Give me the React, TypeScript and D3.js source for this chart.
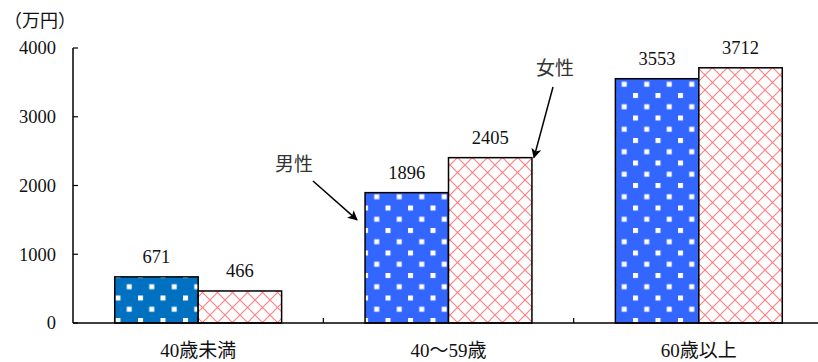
import React from "react";
import * as d3 from "d3";

// Average savings by age group of household head (万円)
const categories = ["40歳未満", "40～59歳", "60歳以上"];
const series = ["男性", "女性"];
const maleValues = [671, 1896, 3553];
const femaleValues = [466, 2405, 3712];
const yTicks = [0, 1000, 2000, 3000, 4000];
const unitLabel = "（万円）";

const W = 818;
const H = 362;
const left = 73;
const right = 824;
const top = 48;
const bottom = 323;

const numFont = "Liberation Serif, Noto Sans CJK JP, serif";
const jpFont = "Liberation Serif, Noto Sans CJK JP, serif";
const ink = "#111";
const numSize = 18.5;

export default function App() {
  const x0 = d3.scaleBand<string>().domain(categories).range([left, right]).padding(0);
  const x1 = d3
    .scaleBand<string>()
    .domain(series)
    .range([0, x0.bandwidth()])
    .paddingInner(0)
    .paddingOuter(0.5);
  const y = d3.scaleLinear().domain([0, 4000]).range([bottom, top]);

  const maleFill = (i: number) => (i === 0 ? "url(#dotsDark)" : "url(#dotsBlue)");

  // annotation anchors tied to the middle group's bars
  const mid = categories[1];
  const maleTip = { x: x0(mid)! + x1("男性")! - 8, y: y(1500) };
  const femaleTip = {
    x: x0(mid)! + x1("女性")! + x1.bandwidth() + 2,
    y: y(femaleValues[1]),
  };

  return (
    <svg
      width={W}
      height={H}
      style={{ position: "absolute", left: 0, top: 0, background: "#fff" }}
    >
      <defs>
        <pattern id="dotsBlue" patternUnits="userSpaceOnUse" width={22.5} height={22.5} x={3} y={3}>
          <rect width={22.5} height={22.5} fill="#3366ff" />
          <rect x={0} y={0} width={5} height={5} fill="#fff" />
          <rect x={11.25} y={11.25} width={5} height={5} fill="#fff" />
        </pattern>
        <pattern id="dotsDark" patternUnits="userSpaceOnUse" width={22.5} height={22.5} x={3} y={3}>
          <rect width={22.5} height={22.5} fill="#0070c0" />
          <rect x={0} y={0} width={5} height={5} fill="#fff" />
          <rect x={11.25} y={11.25} width={5} height={5} fill="#fff" />
        </pattern>
        <pattern id="lattice" patternUnits="userSpaceOnUse" width={15} height={15}>
          <rect width={15} height={15} fill="#fff" />
          <path d="M0,0L15,15M15,0L0,15" stroke="#ff7c80" strokeWidth={1.1} />
        </pattern>
        <marker
          id="arrow"
          viewBox="0 0 10 10"
          refX={9}
          refY={5}
          markerWidth={10}
          markerHeight={10}
          markerUnits="userSpaceOnUse"
          orient="auto"
        >
          <path d="M0,0L10,5L0,10L2.5,5Z" fill="#000" />
        </marker>
      </defs>

      {/* unit label */}
      <text x={4} y={27} fontFamily={jpFont} fontSize={18} fill={ink}>
        {unitLabel}
      </text>

      {/* y axis */}
      <line x1={left} x2={left} y1={top} y2={bottom} stroke="#000" strokeWidth={1.5} />
      {yTicks.map((t) => (
        <g key={t}>
          <line x1={left} x2={left + 5} y1={y(t)} y2={y(t)} stroke="#000" strokeWidth={1.2} />
          <text
            x={left - 17}
            y={y(t)}
            dy="0.34em"
            textAnchor="end"
            fontFamily={numFont}
            fontSize={numSize}
            fill={ink}
          >
            {t}
          </text>
        </g>
      ))}

      {/* bars */}
      {categories.map((c, i) => {
        const gx = x0(c)!;
        const mv = maleValues[i];
        const fv = femaleValues[i];
        const mx = gx + x1("男性")!;
        const fx = gx + x1("女性")!;
        const bw = x1.bandwidth();
        return (
          <g key={c}>
            <rect
              x={mx}
              y={y(mv)}
              width={bw}
              height={y(0) - y(mv)}
              fill={maleFill(i)}
              stroke="#000"
              strokeWidth={1.5}
            />
            <rect
              x={fx}
              y={y(fv)}
              width={bw}
              height={y(0) - y(fv)}
              fill="url(#lattice)"
              stroke="#000"
              strokeWidth={1.5}
            />
            <text
              x={mx + bw / 2}
              y={y(mv) - 14}
              textAnchor="middle"
              fontFamily={numFont}
              fontSize={numSize}
              fill={ink}
            >
              {mv}
            </text>
            <text
              x={fx + bw / 2}
              y={y(fv) - 14}
              textAnchor="middle"
              fontFamily={numFont}
              fontSize={numSize}
              fill={ink}
            >
              {fv}
            </text>
            <text
              x={gx + x0.bandwidth() / 2}
              y={357}
              textAnchor="middle"
              fontFamily={jpFont}
              fontSize={19}
              fill={ink}
            >
              {c}
            </text>
          </g>
        );
      })}

      {/* x axis */}
      <line x1={left} x2={W} y1={bottom} y2={bottom} stroke="#000" strokeWidth={1.5} />
      {categories.slice(1).map((c) => (
        <line
          key={c}
          x1={x0(c)!}
          x2={x0(c)!}
          y1={bottom}
          y2={bottom - 5}
          stroke="#000"
          strokeWidth={1.2}
        />
      ))}

      {/* series annotations */}
      <text x={294} y={171} textAnchor="middle" fontFamily={jpFont} fontSize={19} fill="#333">
        男性
      </text>
      <line
        x1={313}
        y1={181}
        x2={maleTip.x}
        y2={maleTip.y}
        stroke="#000"
        strokeWidth={1.5}
        markerEnd="url(#arrow)"
      />
      <text x={555} y={75} textAnchor="middle" fontFamily={jpFont} fontSize={19} fill="#333">
        女性
      </text>
      <line
        x1={553}
        y1={87}
        x2={femaleTip.x}
        y2={femaleTip.y}
        stroke="#000"
        strokeWidth={1.5}
        markerEnd="url(#arrow)"
      />
    </svg>
  );
}
